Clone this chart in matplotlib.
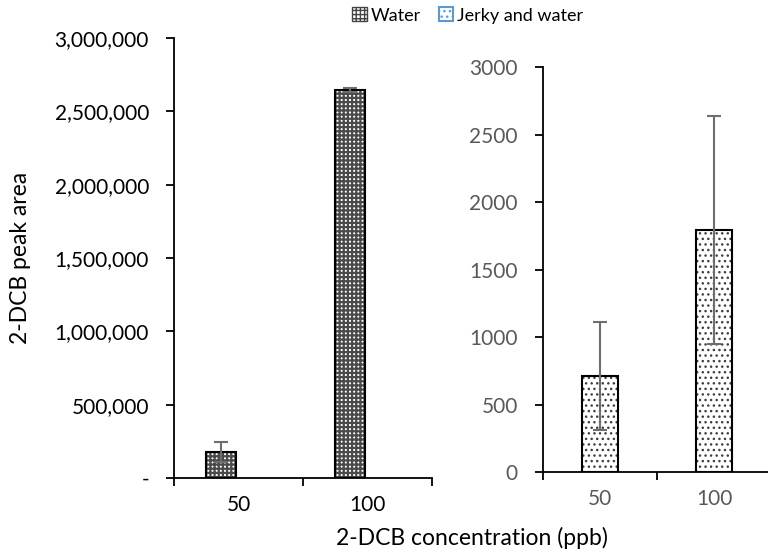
import matplotlib
matplotlib.use("Agg")
import matplotlib.pyplot as plt
from matplotlib.patches import Patch
import numpy as np

plt.rcParams['font.family'] = ['Lato', 'DejaVu Sans']

# peak areas for 2-DCB spiked into water / jerky + water
conc = ['50', '100']
water_area = [177000, 2645000]
water_err = [68000, 15000]
jerky_area = [711, 1795]
jerky_err = [400, 845]

left_ticks = [0, 500000, 1000000, 1500000, 2000000, 2500000, 3000000]
right_ticks = [0, 500, 1000, 1500, 2000, 2500, 3000]

fig = plt.figure(figsize=(7.68, 5.54), dpi=100)
ax1 = fig.add_axes([0.2266, 0.1372, 0.336, 0.794])
ax2 = fig.add_axes([0.707, 0.148, 0.297, 0.731])

x = np.arange(len(conc))


def set_hatch_lw(bars, lw):
    for b in bars:
        if hasattr(b, 'set_hatch_linewidth'):
            b.set_hatch_linewidth(lw)


def style_axis(ax, ticks, labels, color):
    for s in ['top', 'right']:
        ax.spines[s].set_visible(False)
    for s in ['left', 'bottom']:
        ax.spines[s].set_linewidth(1.3)
        ax.spines[s].set_color('black')
    ax.set_xlim(-0.5, 1.5)
    ax.set_xticks([-0.5, 0.5, 1.5])
    ax.set_xticklabels([])
    ax.set_xticks(x, minor=True)
    ax.set_xticklabels(conc, minor=True)
    ax.tick_params(axis='x', which='major', direction='out', length=6, width=1.3)
    ax.tick_params(axis='x', which='minor', length=0, pad=12, labelsize=15, labelcolor=color)
    ax.set_yticks(ticks)
    ax.set_yticklabels(labels)
    ax.set_ylim(ticks[0], ticks[-1])
    ax.tick_params(axis='y', direction='out', length=6, width=1.3, pad=12,
                   labelsize=15, labelcolor=color)
    ax.patch.set_alpha(0)


# left panel: water only
with plt.rc_context({'hatch.linewidth': 1.6}):
    b = ax1.bar(x - 0.136, water_area, 0.233, color='white', edgecolor='#4a4a4a',
                linewidth=0, hatch='++++', zorder=2)
    set_hatch_lw(b, 1.6)
ax1.bar(x - 0.136, water_area, 0.233, fill=False, edgecolor='black', linewidth=1.5, zorder=3)
ax1.errorbar(x - 0.136, water_area, yerr=water_err, fmt='none', ecolor='#6e6e6e',
             elinewidth=1.5, capsize=5, capthick=1.5, zorder=4)
style_axis(ax1, left_ticks,
           ['-' if t == 0 else f'{t:,}' for t in left_ticks], 'black')
fig.text(0.027, 0.534, '2-DCB peak area', rotation=90, ha='center', va='center',
         fontsize=16.5)

# right panel: jerky and water
with plt.rc_context({'hatch.linewidth': 1.0}):
    b = ax2.bar(x, jerky_area, 0.316, color='white', edgecolor='#404040',
                linewidth=0, hatch='...', zorder=2)
    set_hatch_lw(b, 1.0)
ax2.bar(x, jerky_area, 0.316, fill=False, edgecolor='black', linewidth=1.5, zorder=3)
ax2.errorbar(x, jerky_area, yerr=jerky_err, fmt='none', ecolor='#6e6e6e',
             elinewidth=1.5, capsize=5, capthick=1.5, zorder=4)
style_axis(ax2, right_ticks, [str(t) for t in right_ticks], '#595959')

fig.text(0.615, 0.029, '2-DCB concentration (ppb)', ha='center', va='center', fontsize=16.5)

with plt.rc_context({'hatch.linewidth': 1.2}):
    h1 = Patch(facecolor='white', edgecolor='#444444', hatch='++++', linewidth=1.0)
    h2 = Patch(facecolor='white', edgecolor='#5b9bd5', hatch='...', linewidth=1.5)
fig.legend([h1, h2], ['Water', 'Jerky and water'], loc='upper center',
           bbox_to_anchor=(0.609, 1.016), ncol=2, frameon=False, fontsize=13,
           handlelength=0.8, handleheight=0.8, handletextpad=0.2, columnspacing=1.0)

fig.savefig('out.png', dpi=100)
